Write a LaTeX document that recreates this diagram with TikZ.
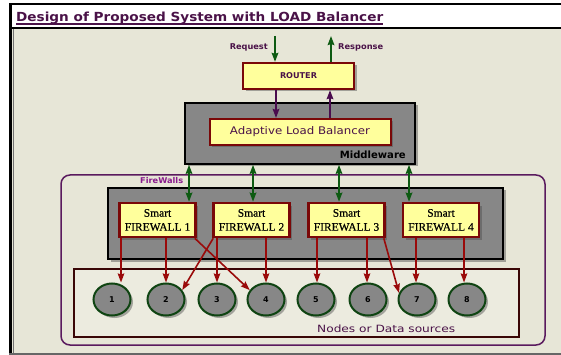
\documentclass[tikz,border=0pt]{standalone}
\usepackage{fontspec}
\setmainfont{DejaVu Sans}
\newfontfamily\fwserif[FakeBold=0.5]{Liberation Serif}
\usetikzlibrary{arrows.meta,shapes.geometric,shadows,calc}

% colours
\definecolor{bgbody}{HTML}{E7E6D7}
\definecolor{bgnodes}{HTML}{ECEBDF}
\definecolor{txtpurple}{HTML}{4A1248}
\definecolor{fwpurple}{HTML}{8A1C8E}
\definecolor{framepurple}{HTML}{5A1A5E}
\definecolor{maroon}{HTML}{7A0808}
\definecolor{boxyellow}{HTML}{FFFF9C}
\definecolor{boxgray}{HTML}{878787}
\definecolor{arrgreen}{HTML}{0D5A12}
\definecolor{ringgreen}{HTML}{0F4412}
\definecolor{arrred}{HTML}{9A0A0A}
\definecolor{arrpurple}{HTML}{4A0C4E}
\definecolor{nodesframe}{HTML}{3A0606}

% stretch a text horizontally to a given width, keeping its height
\newcommand{\fitw}[2]{\resizebox{#1}{\height}{#2}}

\tikzset{
  softshadow/.style={drop shadow={shadow xshift=2.5pt,shadow yshift=-2.5pt,opacity=0.45,fill=black!70}},
  ybox/.style={draw=maroon,fill=boxyellow,line width=2.2pt,inner sep=0pt,softshadow},
  gbox/.style={draw=black,fill=boxgray,line width=1.6pt,inner sep=0pt,softshadow},
  fwbox/.style={ybox,line width=2.6pt,minimum width=76pt,minimum height=34pt,
    align=center,font=\fwserif\fontsize{11.5}{14}\selectfont},
  datanode/.style={ellipse,draw=ringgreen,fill=boxgray,line width=2pt,
    minimum width=37pt,minimum height=32pt,inner sep=0pt,softshadow,
    font=\bfseries\fontsize{8}{9}\selectfont},
  garrow/.style={draw=arrgreen,line width=2pt,-{Stealth[length=9pt,width=6.5pt,inset=1pt]}},
  gdarrow/.style={draw=arrgreen,line width=2pt,
    {Stealth[length=9pt,width=6.5pt,inset=1pt]}-{Stealth[length=9pt,width=6.5pt,inset=1pt]}},
  parrow/.style={draw=arrpurple,line width=2pt,-{Stealth[length=9pt,width=6.5pt,inset=1pt]}},
  rarrow/.style={draw=arrred,line width=1.6pt,-{Stealth[length=9pt,width=6.5pt,inset=1pt]}},
  lbl/.style={inner sep=0pt,text=txtpurple},
}

\begin{document}
\begin{tikzpicture}[x=1pt,y=-1pt]
\useasboundingbox (0,0) rectangle (561,355);

% frame, title band and body
\fill[white] (0,0) rectangle (561,355);
\fill[bgbody] (12,29) rectangle (561,353);
\fill[white] (12,5) rectangle (561,27);
\draw[black,line width=1.5pt] (9,4) -- (561,4);
\draw[black,line width=2.4pt] (9,28) -- (561,28);
\draw[black,line width=2.6pt] (10.5,3.5) -- (10.5,355);
\draw[black!55,line width=0.8pt] (13.2,29) -- (13.2,353);
\draw[black!60,line width=2pt] (9,354) -- (561,354);

% title
\node[lbl,anchor=base west,font=\bfseries\fontsize{12.5}{14}\selectfont] (title) at (16,21.5)
  {\fitw{367pt}{Design of Proposed System with LOAD Balancer}};
\draw[txtpurple,line width=1.4pt] ([yshift=-2.4pt]title.base west) -- ([yshift=-2.4pt]title.base east);

% router
\node[ybox,minimum width=111pt,minimum height=26pt,font=\bfseries\fontsize{8}{9}\selectfont,text=txtpurple]
  (router) at (298.5,76) {\fitw{37pt}{ROUTER}};

% middleware with the load balancer
\node[gbox,minimum width=230pt,minimum height=61pt] (mw) at (300,133.5) {};
\node[ybox,line width=2pt,minimum width=181pt,minimum height=26pt,text=txtpurple,
  font=\fontsize{10.5}{12}\selectfont] (alb) at (300,132)
  {\fitw{140pt}{Adaptive Load Balancer}\hspace{14pt}};
\node[inner sep=0pt,anchor=base east,font=\bfseries\fontsize{10}{11}\selectfont] (mwlabel)
  at (406,159) {\fitw{66pt}{Middleware}};

% firewall group
\node[draw=framepurple,line width=1.5pt,rounded corners=9pt,minimum width=484pt,
  minimum height=170pt,inner sep=0pt] (fwgroup) at (303,260) {};
\node[inner sep=0pt,anchor=base west,text=fwpurple,font=\bfseries\fontsize{8}{9}\selectfont]
  (fwlabel) at (140,184) {\fitw{43pt}{FireWalls}};
\node[gbox,minimum width=395pt,minimum height=71pt] (fwarea) at (305.5,223.5) {};
\node[fwbox] (fw1) at (157.5,220) {Smart\\FIREWALL 1};
\node[fwbox] (fw2) at (251.5,220) {Smart\\FIREWALL 2};
\node[fwbox] (fw3) at (346.5,220) {Smart\\FIREWALL 3};
\node[fwbox] (fw4) at (441,220) {Smart\\FIREWALL 4};

% data sources
\node[draw=nodesframe,fill=bgnodes,line width=2.4pt,minimum width=445pt,minimum height=68pt,
  inner sep=0pt] (nodes) at (296.5,303) {};
\foreach \i/\x in {1/112,2/166,3/217,4/266,5/316,6/368,7/417,8/467}
  \node[datanode] (n\i) at (\x,299.5) {\i};
\node[lbl,anchor=base west,font=\fontsize{10}{12}\selectfont] (nodeslabel) at (317,332)
  {\fitw{138pt}{Nodes or Data sources}};

% request / response
\coordinate (req) at (275,36);
\coordinate (resp) at (331,36);
\draw[garrow] (req) -- (req |- router.north);
\draw[garrow] (resp |- router.north) -- (resp);
\node[lbl,anchor=east,font=\bfseries\fontsize{8}{9}\selectfont] (reqlabel) at (268,47)
  {\fitw{38pt}{Request}};
\node[lbl,anchor=west,font=\bfseries\fontsize{8}{9}\selectfont] (resplabel) at (338,47)
  {\fitw{45pt}{Response}};

% router <-> load balancer
\coordinate (pdown) at (276,0);
\coordinate (pup) at (330,0);
\draw[parrow] (pdown |- router.south) -- (pdown |- alb.north);
\draw[parrow] (pup |- alb.north) -- (pup |- router.south);

% middleware <-> firewalls
\coordinate (g1) at (189,0);
\coordinate (g2) at (253,0);
\coordinate (g3) at (339,0);
\coordinate (g4) at (409,0);
\draw[gdarrow] (g1 |- mw.south) -- (g1 |- fw1.north);
\draw[gdarrow] (g2 |- mw.south) -- (g2 |- fw2.north);
\draw[gdarrow] (g3 |- mw.south) -- (g3 |- fw3.north);
\draw[gdarrow] (g4 |- mw.south) -- (g4 |- fw4.north);

% firewalls -> data sources
\coordinate (r1) at (121,0);
\coordinate (r2) at (166,0);
\coordinate (r3) at (217,0);
\coordinate (r4) at (266,0);
\coordinate (r5) at (317,0);
\coordinate (r6) at (367,0);
\coordinate (r7) at (416,0);
\coordinate (r8) at (464,0);
\draw[rarrow] (r1 |- fw1.south) -- (r1 |- n1.north);
\draw[rarrow] (r2 |- fw1.south) -- (r2 |- n2.north);
\draw[rarrow] (r3 |- fw2.south) -- (r3 |- n3.north);
\draw[rarrow] (r4 |- fw2.south) -- (r4 |- n4.north);
\draw[rarrow] (r5 |- fw3.south) -- (r5 |- n5.north);
\draw[rarrow] (r6 |- fw3.south) -- (r6 |- n6.north);
\draw[rarrow] (r7 |- fw4.south) -- (r7 |- n7.north);
\draw[rarrow] (r8 |- fw4.south) -- (r8 |- n8.north);
\draw[rarrow] ([xshift=-2pt]fw1.south east) -- (n4.150);
\draw[rarrow] ([xshift=1pt]fw2.south west) -- (n2.30);
\draw[rarrow] ([xshift=-2pt]fw3.south east) -- (n7.160);
\end{tikzpicture}
\end{document}
